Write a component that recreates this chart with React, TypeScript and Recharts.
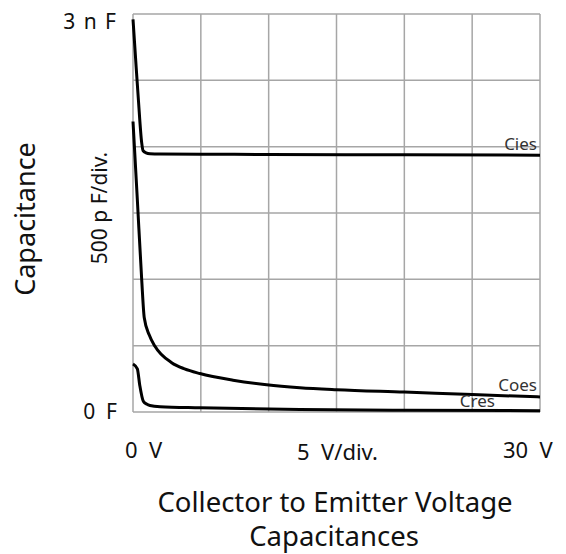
import React from 'react';
import { LineChart, Line, XAxis, YAxis, CartesianGrid, LabelList } from 'recharts';

// voltage (V) and capacitance (nF)
const ciesV = [0, 0.2, 0.4, 0.64, 0.74, 0.96, 1.25, 2, 5, 10, 20, 30];
const ciesC = [2.96, 2.65, 2.35, 2.03, 1.97, 1.953, 1.946, 1.944, 1.943, 1.941, 1.939, 1.936];

const coesV = [0, 0.32, 0.64, 0.83, 1.2, 1.62, 2.85, 3.8, 4.93, 7.37, 9.85, 12.3, 15, 20, 25, 30];
const coesC = [2.19, 1.6, 1.0, 0.71, 0.58, 0.495, 0.372, 0.325, 0.29, 0.24, 0.205, 0.183, 0.168, 0.15, 0.131, 0.114];

const cresV = [0, 0.32, 0.5, 0.76, 1.0, 1.25, 2, 4.93, 12.3, 20, 30];
const cresC = [0.362, 0.325, 0.2, 0.081, 0.06, 0.049, 0.04, 0.032, 0.019, 0.013, 0.01];

const xMax = 30;
const yMax = 3;
const xTicks = [0, 5, 10, 15, 20, 25, 30];
const yTicks = [0, 0.5, 1, 1.5, 2, 2.5, 3];

const toRows = (v: number[], c: number[]) => v.map((x, i) => ({ v: x, c: c[i] }));

const series = [
    { name: 'Cies', data: toRows(ciesV, ciesC), dx: -3, dy: -5 },
    { name: 'Coes', data: toRows(coesV, coesC), dx: -3, dy: -6 },
    { name: 'Cres', data: toRows(cresV, cresC), dx: -45, dy: -4 },
];

const font = "'Noto Sans', 'Open Sans', sans-serif";

// eslint-disable-next-line @typescript-eslint/no-explicit-any
const endLabel = (name: string, count: number, dx: number, dy: number) => (props: any) => {
    const { x, y, index } = props;
    if (index !== count - 1) return null;
    return (
        <text x={x + dx} y={y + dy} textAnchor="end" fontSize={17} fill="#333" fontFamily={font}>
            {name}
        </text>
    );
};

// grid lines follow the plot area the chart hands over
// eslint-disable-next-line @typescript-eslint/no-explicit-any
const gridX = ({ offset }: any) => xTicks.map((t) => offset.left + (offset.width * t) / xMax);
// eslint-disable-next-line @typescript-eslint/no-explicit-any
const gridY = ({ offset }: any) => yTicks.map((t) => offset.top + offset.height * (1 - t / yMax));

const txt = (extra: React.CSSProperties): React.CSSProperties => ({
    position: 'absolute',
    fontFamily: font,
    color: '#111',
    whiteSpace: 'nowrap',
    lineHeight: 1,
    ...extra,
});

export default function App() {
    return (
        <div style={{ position: 'absolute', left: 0, top: 0, width: 566, height: 554, background: '#fff' }}>
            <LineChart width={566} height={554} margin={{ top: 14, right: 26, bottom: 142, left: 133 }}>
                <CartesianGrid
                    stroke="#a6a6a6"
                    strokeWidth={1.5}
                    verticalCoordinatesGenerator={gridX}
                    horizontalCoordinatesGenerator={gridY}
                />
                <XAxis type="number" dataKey="v" domain={[0, xMax]} ticks={xTicks} tick={false} axisLine={false} tickLine={false} height={0} />
                <YAxis type="number" dataKey="c" domain={[0, yMax]} ticks={yTicks} tick={false} axisLine={false} tickLine={false} width={0} />
                {series.map((s) => (
                    <Line
                        key={s.name}
                        data={s.data}
                        dataKey="c"
                        type="monotone"
                        stroke="#000"
                        strokeWidth={3}
                        dot={false}
                        isAnimationActive={false}
                    >
                        <LabelList dataKey="c" content={endLabel(s.name, s.data.length, s.dx, s.dy)} />
                    </Line>
                ))}
            </LineChart>
            <div style={txt({ left: 116, top: 21, fontSize: 21, wordSpacing: 3, transform: 'translate(-100%, -50%)' })}>3 n F</div>
            <div style={txt({ left: 117, top: 411, fontSize: 21, transform: 'translate(-100%, -50%)' })}>0 &nbsp;F</div>
            <div style={txt({ left: 99, top: 208, fontSize: 21, transform: 'translate(-50%, -50%) rotate(-90deg)' })}>500 p F/div.</div>
            <div style={txt({ left: 24, top: 219, fontSize: 27, transform: 'translate(-50%, -50%) rotate(-90deg)' })}>Capacitance</div>
            <div style={txt({ left: 125, top: 449, fontSize: 22, transform: 'translateY(-50%)' })}>0 &nbsp;V</div>
            <div style={txt({ left: 297, top: 451, fontSize: 22, transform: 'translateY(-50%)' })}>5 &nbsp;V/div.</div>
            <div style={txt({ left: 503, top: 449, fontSize: 22, transform: 'translateY(-50%)' })}>30 &nbsp;V</div>
            <div style={txt({ left: 335, top: 502, fontSize: 27.5, transform: 'translate(-50%, -50%)' })}>Collector to Emitter Voltage</div>
            <div style={txt({ left: 334, top: 536, fontSize: 27.5, transform: 'translate(-50%, -50%)' })}>Capacitances</div>
        </div>
    );
}
